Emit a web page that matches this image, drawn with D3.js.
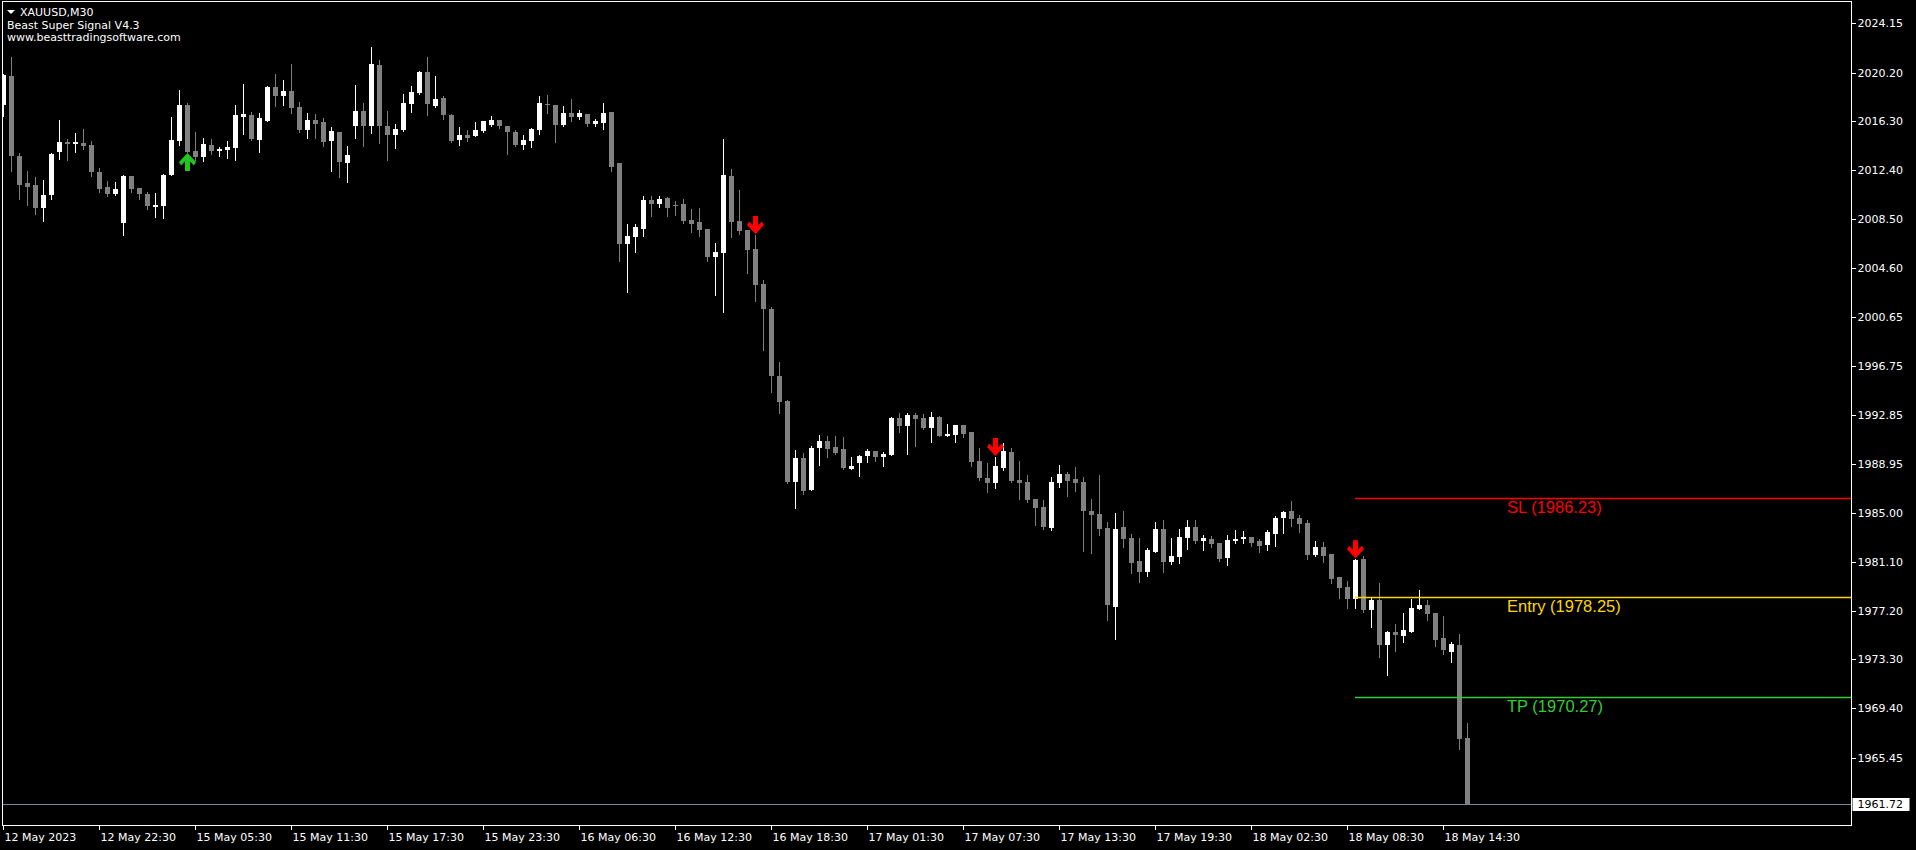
<!DOCTYPE html>
<html><head><meta charset="utf-8">
<script src="https://cdn.jsdelivr.net/npm/d3@7"></script>
<style>
html,body{margin:0;padding:0;background:#000;overflow:hidden}
svg{display:block}
</style></head><body>
<svg id="c" width="1916" height="850"></svg>
<script>
// ---------------- data ----------------
const symbolLabel = "XAUUSD,M30";
const indicatorName = "Beast Super Signal V4.3";
const website = "www.beasttradingsoftware.com";

const opens = [
2017.62,2019.93,2013.54,2011.38,2011.22,2009.38,2010.42,2013.86,2014.66,2014.50,
2014.58,2014.42,2012.26,2011.06,2010.50,2008.18,2011.94,2010.98,2010.50,2009.46,
2009.54,2012.02,2014.74,2017.61,2013.94,2013.46,2014.42,2013.94,2014.02,2014.18,
2016.65,2016.81,2014.81,2016.33,2019.05,2018.33,2018.73,2017.45,2015.61,2016.41,
2016.25,2014.73,2015.45,2012.98,2015.93,2017.13,2015.93,2020.81,2015.93,2015.21,
2015.61,2017.69,2018.57,2020.25,2017.53,2018.17,2016.81,2014.81,2015.21,2015.13,
2015.53,2016.01,2016.41,2015.93,2015.45,2014.41,2014.73,2015.61,2017.69,2017.61,
2016.01,2016.97,2016.65,2016.89,2016.09,2016.17,2017.05,2012.98,2006.51,2007.07,
2007.71,2010.02,2009.70,2010.18,2009.62,2009.70,2008.42,2008.26,2007.71,2005.47,
2005.79,2011.94,2008.34,2007.62,2006.11,2003.31,2001.31,1995.95,1993.95,1987.48,
1989.39,1986.86,1990.19,1990.75,1990.27,1990.11,1988.51,1988.99,1989.55,1989.95,
1989.47,1989.63,1992.59,1991.95,1992.83,1992.59,1991.79,1992.67,1991.15,1991.23,
1992.03,1991.47,1989.15,1987.79,1987.39,1988.59,1989.87,1987.63,1987.47,1986.11,
1985.48,1983.80,1987.39,1988.11,1987.71,1987.47,1985.16,1984.92,1983.80,1977.49,
1983.88,1983.00,1981.16,1980.29,1981.88,1983.72,1981.09,1981.48,1983.00,1983.88,
1982.76,1982.92,1982.60,1981.41,1982.76,1982.92,1983.08,1982.76,1982.44,1983.32,
1984.60,1985.16,1984.60,1984.20,1981.64,1982.28,1981.72,1979.89,1979.09,1978.13,
1981.32,1977.25,1978.05,1974.45,1975.49,1975.17,1975.49,1977.33,1977.65,1977.01,
1975.01,1973.89,1974.45,1967.01];
const highs = [
2020.07,2021.43,2013.75,2012.34,2011.86,2011.62,2013.78,2016.41,2014.90,2015.38,
2015.69,2014.74,2012.58,2011.54,2011.46,2012.02,2011.94,2010.98,2010.66,2010.58,
2012.10,2016.65,2018.81,2017.77,2015.45,2014.98,2014.90,2014.26,2014.74,2017.61,
2019.29,2017.05,2016.97,2019.13,2020.09,2019.61,2020.89,2017.85,2016.97,2016.89,
2016.57,2015.85,2015.45,2014.34,2019.21,2017.77,2022.25,2021.21,2017.13,2016.09,
2018.49,2019.13,2020.33,2021.45,2019.93,2018.33,2016.89,2015.85,2015.61,2016.25,
2016.33,2016.73,2016.41,2015.93,2015.61,2015.21,2015.77,2018.33,2018.41,2017.61,
2017.53,2018.09,2017.21,2016.89,2016.49,2017.77,2017.05,2012.98,2008.10,2008.10,
2010.34,2010.34,2010.34,2010.26,2009.94,2010.10,2009.30,2009.38,2007.71,2006.59,
2014.90,2012.50,2010.82,2007.62,2007.23,2003.63,2001.47,1997.07,1994.03,1990.04,
1989.79,1990.35,1991.23,1991.15,1991.15,1991.07,1989.47,1989.63,1990.11,1989.95,
1989.87,1992.67,1992.99,1992.99,1992.99,1992.91,1993.07,1992.75,1992.11,1992.03,
1992.03,1991.47,1990.19,1988.99,1989.47,1990.59,1990.19,1989.15,1988.03,1986.11,
1986.03,1987.87,1988.83,1988.27,1988.67,1987.87,1986.12,1988.04,1984.28,1985.00,
1985.16,1983.32,1983.00,1982.20,1984.28,1984.44,1983.00,1983.72,1984.44,1984.44,
1983.24,1983.16,1982.60,1983.24,1983.64,1983.56,1983.08,1982.92,1983.64,1984.76,
1985.16,1985.96,1984.84,1984.44,1982.76,1982.68,1981.72,1979.89,1979.57,1981.30,
1981.56,1978.29,1979.41,1975.57,1976.13,1977.01,1978.13,1978.85,1978.05,1977.01,
1976.77,1974.69,1975.33,1968.21];
const lows = [
2016.76,2012.34,2010.10,2009.62,2008.90,2008.34,2010.10,2013.30,2013.22,2013.86,
2014.10,2011.94,2010.66,2010.34,2010.42,2007.22,2010.66,2010.10,2009.30,2008.66,
2008.58,2012.02,2014.42,2013.86,2013.22,2013.14,2013.70,2013.54,2013.38,2013.22,
2015.30,2014.81,2013.85,2016.33,2017.53,2017.61,2016.97,2015.45,2014.98,2014.98,
2014.34,2012.34,2011.86,2011.46,2014.98,2014.34,2015.37,2014.58,2013.22,2014.18,
2015.53,2017.05,2018.49,2016.81,2017.45,2016.49,2014.65,2014.41,2014.73,2015.13,
2015.45,2015.93,2015.77,2013.70,2014.34,2014.10,2014.26,2015.29,2016.97,2014.65,
2015.93,2016.33,2016.49,2015.93,2015.93,2015.69,2012.34,2005.15,2002.67,2005.87,
2007.15,2008.74,2009.46,2008.74,2008.82,2008.18,2007.47,2007.15,2005.15,2002.43,
2001.07,2007.07,2007.31,2004.19,2001.95,1998.03,1994.67,1992.99,1987.40,1985.40,
1986.54,1986.86,1988.86,1989.47,1989.71,1988.51,1988.51,1987.95,1989.07,1989.15,
1988.75,1989.63,1991.47,1989.71,1990.35,1991.71,1990.67,1991.15,1991.15,1990.67,
1991.07,1988.75,1987.63,1986.67,1986.99,1988.43,1987.47,1986.11,1985.87,1984.04,
1983.72,1983.64,1987.07,1986.36,1986.75,1981.96,1981.80,1983.24,1976.45,1974.93,
1982.28,1980.21,1979.49,1979.97,1981.88,1980.29,1980.93,1981.00,1982.12,1982.60,
1982.04,1982.28,1981.16,1980.85,1982.60,1982.60,1982.36,1981.88,1982.04,1982.36,
1983.40,1983.96,1983.48,1981.33,1981.56,1981.09,1979.41,1978.21,1977.41,1977.41,
1977.09,1975.89,1973.49,1972.05,1973.97,1974.69,1975.49,1977.33,1976.45,1974.37,
1973.73,1973.09,1966.13,1961.72];
const closes = [
2020.01,2013.56,2011.22,2011.06,2009.38,2010.42,2013.70,2014.66,2014.50,2014.66,
2014.34,2012.26,2010.90,2010.50,2010.90,2011.94,2010.90,2010.50,2009.54,2009.62,
2012.02,2014.82,2017.61,2013.86,2013.46,2014.50,2013.94,2014.10,2014.26,2016.81,
2016.89,2014.89,2016.57,2019.05,2018.33,2018.73,2017.37,2015.61,2016.41,2016.09,
2014.65,2015.53,2013.06,2013.62,2017.13,2015.93,2020.89,2015.93,2015.21,2015.69,
2017.77,2018.65,2020.25,2017.69,2018.09,2016.81,2014.73,2015.21,2014.97,2015.61,
2016.33,2016.41,2015.93,2015.45,2014.41,2014.81,2015.69,2017.77,2017.61,2016.01,
2016.97,2016.65,2016.97,2016.09,2016.33,2016.97,2012.66,2006.51,2007.15,2007.87,
2010.02,2009.70,2010.10,2009.38,2009.54,2008.34,2008.10,2007.62,2005.47,2005.87,
2012.02,2008.26,2007.55,2006.03,2003.23,2001.31,1995.95,1993.87,1987.48,1989.40,
1986.78,1990.19,1990.75,1990.11,1989.79,1988.59,1988.75,1989.55,1989.95,1989.47,
1989.71,1992.59,1991.95,1992.83,1992.51,1991.79,1992.67,1991.15,1991.31,1992.03,
1991.31,1989.07,1987.79,1987.39,1988.75,1989.95,1987.55,1987.39,1986.03,1985.40,
1983.88,1987.47,1988.11,1987.55,1987.39,1985.16,1984.84,1983.72,1977.65,1983.72,
1982.92,1981.00,1980.29,1982.04,1983.72,1981.09,1981.56,1983.08,1983.88,1982.76,
1983.00,1982.52,1981.33,1982.84,1982.92,1983.08,1982.60,1982.36,1983.48,1984.60,
1985.08,1984.52,1984.12,1981.64,1982.28,1981.56,1979.73,1979.01,1978.13,1981.24,
1977.25,1978.05,1974.45,1975.49,1975.25,1975.65,1977.41,1977.65,1976.93,1974.85,
1974.05,1974.53,1966.93,1961.72];

const timeLabels = ["12 May 2023","12 May 22:30","15 May 05:30","15 May 11:30","15 May 17:30",
  "15 May 23:30","16 May 06:30","16 May 12:30","16 May 18:30","17 May 01:30","17 May 07:30",
  "17 May 13:30","17 May 19:30","18 May 02:30","18 May 08:30","18 May 14:30"];
const timeLabelBars = [0,12,24,36,48,60,72,84,96,108,120,132,144,156,168,180];
const priceTicks = [2024.15,2020.20,2016.30,2012.40,2008.50,2004.60,2000.65,1996.75,
  1992.85,1988.95,1985.00,1981.10,1977.20,1973.30,1969.40,1965.45];
const lastPrice = 1961.72;

const signalBars = [23,94,124,169];
const signalDirs = ["up","down","down","down"];

const levelNames = ["SL","Entry","TP"];
const levelValues = [1986.23,1978.25,1970.27];
const levelColors = ["#ff0000","#ffd700","#32cd32"];
const levelStartBar = 169;
const levelLabelBar = 188;

// ---------------- layout ----------------
const W = 1916, H = 850;
const frame = {left:2.5, top:1.5, right:1851.5, bottom:825.5};
const svg = d3.select("#c");
svg.append("rect").attr("width",W).attr("height",H).attr("fill","#000");

const n = opens.length;
const x = d3.scaleLinear().domain([0, n-1]).range([3, 3 + 8*(n-1)]);
const y = d3.scaleLinear().domain([1959.98, 2025.85]).range([826, 2]);

svg.append("defs").append("clipPath").attr("id","plotclip")
  .append("rect").attr("x",3).attr("y",2).attr("width",1848).attr("height",823);

const plot = svg.append("g").attr("clip-path","url(#plotclip)");

const bars = d3.range(n).map(i => ({i, o:opens[i], h:highs[i], l:lows[i], c:closes[i]}));
const bull = d => d.c >= d.o;
const colBull = "#ffffff", colBear = "#808080";

// current price line
plot.append("line")
  .attr("x1",3).attr("x2",frame.right)
  .attr("y1",Math.round(y(lastPrice))+0.5).attr("y2",Math.round(y(lastPrice))+0.5)
  .attr("stroke","#778899").attr("stroke-width",1);

// wicks
plot.append("g").attr("shape-rendering","crispEdges").selectAll("line").data(bars).join("line")
  .attr("x1",d=>x(d.i)+0.5).attr("x2",d=>x(d.i)+0.5)
  .attr("y1",d=>Math.round(y(d.h))).attr("y2",d=>Math.round(y(d.l))+1)
  .attr("stroke",d=>bull(d)?colBull:colBear).attr("stroke-width",1);

// bodies
plot.append("g").attr("shape-rendering","crispEdges").selectAll("rect").data(bars).join("rect")
  .attr("x",d=>x(d.i)-2).attr("width",5)
  .attr("y",d=>Math.round(y(Math.max(d.o,d.c))))
  .attr("height",d=>Math.max(1, Math.round(y(Math.min(d.o,d.c))) - Math.round(y(Math.max(d.o,d.c)))))
  .attr("fill",d=>bull(d)?colBull:colBear);

// level lines and labels
levelValues.forEach((v,k)=>{
  const yy = Math.round(y(v))+0.5;
  plot.append("line").attr("x1",x(levelStartBar)).attr("x2",frame.right)
    .attr("y1",yy).attr("y2",yy).attr("stroke",levelColors[k]).attr("stroke-width",1.3);
  plot.append("text").attr("x",x(levelLabelBar)).attr("y",yy+14.5)
    .attr("fill",levelColors[k]).attr("font-family","Liberation Sans, Arial, sans-serif")
    .attr("font-size","16.5px").text(`${levelNames[k]} (${v.toFixed(2)})`);
});

// signal arrows
const downArrow = "M-2.5,-18 L2.5,-18 L2.5,-8.5 L6.5,-12.5 L8.5,-9 L0,0 L-8.5,-9 L-6.5,-12.5 L-2.5,-8.5 Z";
signalBars.forEach((b,k)=>{
  const cx = x(b)+0.5;
  if (signalDirs[k]==="down") {
    plot.append("path").attr("d",downArrow)
      .attr("transform",`translate(${cx},${y(highs[b])-1})`).attr("fill","#ff0000");
  } else {
    plot.append("path").attr("d",downArrow)
      .attr("transform",`translate(${cx},${y(lows[b])+1}) scale(1,-1)`).attr("fill","#22c422");
  }
});

// frame
svg.append("rect").attr("x",frame.left).attr("y",frame.top)
  .attr("width",frame.right-frame.left).attr("height",frame.bottom-frame.top)
  .attr("fill","none").attr("stroke","#ffffff").attr("stroke-width",1);

const axisFont = "DejaVu Sans, Verdana, sans-serif";

// y axis
const yAxis = d3.axisRight(y).tickValues(priceTicks).tickFormat(d3.format(".2f"))
  .tickSize(4).tickPadding(2);
const gy = svg.append("g").attr("transform",`translate(${frame.right},0)`).call(yAxis);
gy.select(".domain").remove();
gy.selectAll(".tick line").attr("stroke","#fff").attr("shape-rendering","crispEdges");
gy.selectAll(".tick text").attr("fill","#fff").attr("font-family",axisFont).attr("font-size","11px");

// x axis
const xAxis = d3.axisBottom(x).tickValues(timeLabelBars)
  .tickFormat((d,i)=>timeLabels[i]).tickSize(4).tickPadding(4);
const gx = svg.append("g").attr("transform",`translate(0,${frame.bottom})`).call(xAxis);
gx.select(".domain").remove();
gx.selectAll(".tick line").attr("stroke","#fff").attr("shape-rendering","crispEdges");
gx.selectAll(".tick text").attr("fill","#fff").attr("font-family",axisFont).attr("font-size","11px")
  .attr("text-anchor","start").attr("x",1);

// current price label
const ly = y(lastPrice);
svg.append("rect").attr("x",frame.right+1).attr("y",Math.round(ly)-6).attr("width",57).attr("height",13).attr("fill","#fff");
svg.append("text").attr("x",frame.right+6).attr("y",ly).attr("dy","0.35em")
  .attr("fill","#000").attr("font-family",axisFont).attr("font-size","11px").text(lastPrice.toFixed(2));

// top-left info
svg.append("path").attr("d","M7,10 L15,10 L11,14 Z").attr("fill","#fff");
const info = svg.append("g").attr("fill","#fff").attr("font-family",axisFont).attr("font-size","11px");
info.append("text").attr("x",20).attr("y",16).text(symbolLabel);
info.append("text").attr("x",7).attr("y",29).text(indicatorName);
info.append("text").attr("x",7).attr("y",41).text(website);
</script>
</body></html>
